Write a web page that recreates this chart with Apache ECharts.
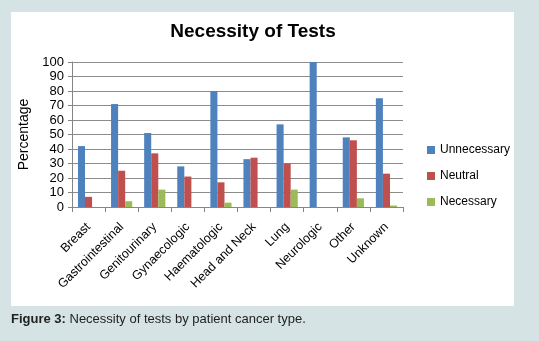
<!DOCTYPE html>
<html>
<head>
<meta charset="utf-8">
<script src="https://cdn.jsdelivr.net/npm/echarts@6/dist/echarts.min.js"></script>
<style>
  html, body { margin: 0; padding: 0; background: #d5e3e4; }
  #chart { width: 539px; height: 341px; }
</style>
</head>
<body>
<div id="chart"></div>
<script>
// Cancer types on the category axis
const categories = ['Breast', 'Gastrointestinal', 'Genitourinary', 'Gynaecologic', 'Haematologic',
  'Head and Neck', 'Lung', 'Neurologic', 'Other', 'Unknown'];
// Percentage of tests per rating
const unnecessary = [42, 71, 51, 28, 80, 33, 57, 100, 48, 75];
const neutral = [7, 25, 37, 21, 17, 34, 30, 0, 46, 23];
const necessary = [0, 4, 12, 0, 3, 0, 12, 0, 6, 1];
const yTicks = { min: 0, max: 100, step: 10 };

const font = 'Liberation Sans, Arial, sans-serif';
const chart = echarts.init(document.getElementById('chart'), null, { renderer: 'canvas' });

const bar = (name, data, color) => ({
  name, type: 'bar', data, barGap: '0%', barCategoryGap: '36%',
  itemStyle: { color }
});

chart.setOption({
  backgroundColor: '#d5e3e4',
  animation: false,
  textStyle: { fontFamily: font },
  graphic: [
    { type: 'rect', z: -10, shape: { x: 11, y: 12, width: 503, height: 294 }, style: { fill: '#ffffff' } },
    {
      type: 'text', left: 11, top: 313,
      style: {
        text: '{b|Figure 3:} Necessity of tests by patient cancer type.',
        fontFamily: font, fontSize: 13, fill: '#222',
        rich: { b: { fontWeight: 'bold', fontSize: 13, fontFamily: font, fill: '#222' } }
      }
    }
  ],
  title: {
    text: 'Necessity of Tests', left: 248, textAlign: 'center', top: 17,
    textStyle: { fontFamily: font, fontSize: 19, fontWeight: 'bold', color: '#000' }
  },
  legend: {
    orient: 'vertical', left: 422, top: 139, icon: 'rect',
    itemWidth: 8, itemHeight: 8, itemGap: 14,
    textStyle: { fontFamily: font, fontSize: 12, color: '#000' },
    data: ['Unnecessary', 'Neutral', 'Necessary']
  },
  grid: { left: 72, right: 136, top: 62, bottom: 134, containLabel: false },
  xAxis: {
    type: 'category', data: categories,
    axisLine: { lineStyle: { color: '#868686' } },
    axisTick: { show: true, interval: 0, length: 5, lineStyle: { color: '#868686' } },
    axisLabel: { interval: 0, rotate: 45, fontSize: 12.5, color: '#000', fontFamily: font, margin: 18 }
  },
  yAxis: {
    type: 'value', min: yTicks.min, max: yTicks.max, interval: yTicks.step,
    name: 'Percentage', nameLocation: 'middle', nameRotate: 90, nameGap: 37,
    nameTextStyle: { fontSize: 14, color: '#000', fontFamily: font },
    axisLine: { show: true, lineStyle: { color: '#868686' } },
    axisTick: { show: true, length: 4, lineStyle: { color: '#868686' } },
    axisLabel: { fontSize: 13, color: '#000', fontFamily: font, margin: 8 },
    splitLine: { lineStyle: { color: '#8c8c8c' } }
  },
  series: [
    bar('Unnecessary', unnecessary, '#4f81bd'),
    bar('Neutral', neutral, '#c0504d'),
    bar('Necessary', necessary, '#9bbb59')
  ]
});
</script>
</body>
</html>
